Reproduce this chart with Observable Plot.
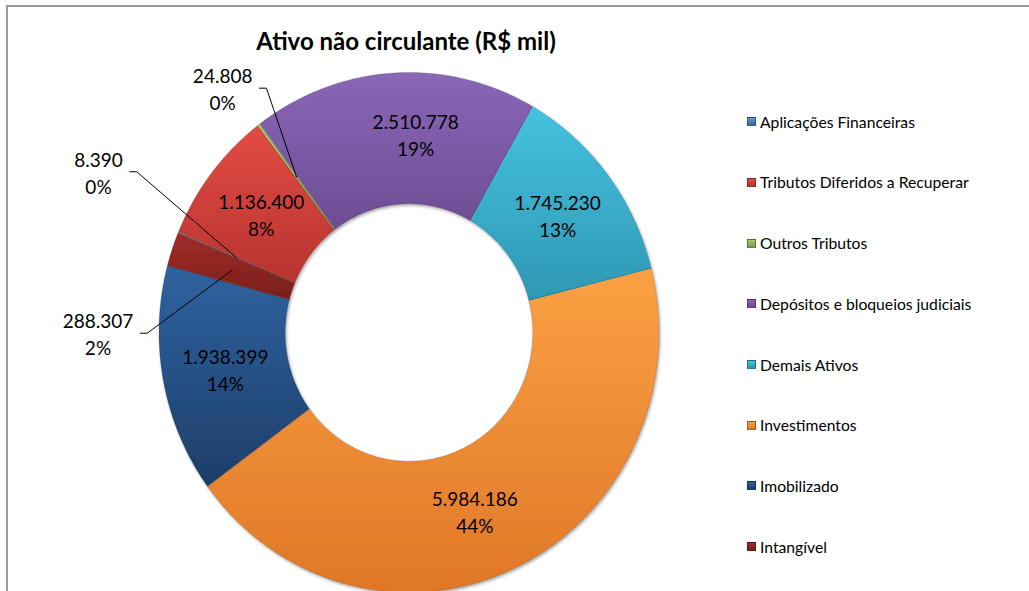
<!DOCTYPE html>
<html>
<head>
<meta charset="utf-8">
<script src="https://cdn.jsdelivr.net/npm/d3@7"></script>
<script src="https://cdn.jsdelivr.net/npm/@observablehq/plot@0.6"></script>
<style>
  html, body { margin: 0; padding: 0; background: #fff; }
  #wrap { position: relative; width: 1029px; height: 591px; overflow: hidden; font-family: Lato, "Open Sans", sans-serif; }
  #frame { position: absolute; left: 6px; top: 5px; width: 1200px; height: 800px; border-left: 2px solid #999; border-top: 2px solid #999; box-sizing: border-box; }
  #chart { position: absolute; left: 0; top: 0; }
  #title { position: absolute; left: 0; width: 812px; top: 26px; text-align: center; font-weight: 700; font-size: 24px; color: #000; line-height: 30px; }
  #legend { position: absolute; left: 747px; top: 0; }
  .item { position: absolute; left: 0; height: 20px; display: flex; align-items: center; white-space: nowrap; font-size: 15.7px; color: #000; }
  .sw { width: 9px; height: 9px; margin-right: 4px; box-sizing: border-box; border: 1px solid rgba(0,0,0,0.35); }
</style>
</head>
<body>
<div id="wrap">
  <svg width="0" height="0" style="position:absolute">
    <defs id="defs">
      <filter id="shadow" x="-10%" y="-10%" width="120%" height="120%">
        <feDropShadow dx="1.2" dy="1.8" stdDeviation="1.8" flood-color="#000" flood-opacity="0.35"/>
      </filter>
    </defs>
  </svg>
  <div id="frame"></div>
  <div id="chart"></div>
  <div id="title">Ativo não circulante (R$ mil)</div>
  <div id="legend"></div>
</div>
<script>
// ---- data ----
const categories = [
  "Aplicações Financeiras",
  "Tributos Diferidos a Recuperar",
  "Outros Tributos",
  "Depósitos e bloqueios judiciais",
  "Demais Ativos",
  "Investimentos",
  "Imobilizado",
  "Intangível"
];
const values = [8390, 1136400, 24808, 2510778, 1745230, 5984186, 1938399, 288307];
const pctLabels = ["0%", "8%", "0%", "19%", "13%", "44%", "14%", "2%"];

// ---- styles ----
const colorsTop    = ["#6593cf", "#e24c45", "#a8c865", "#8a67b7", "#45c2df", "#fba144", "#2f63a1", "#a02d28"];
const colorsBottom = ["#3e6aa2", "#b8332e", "#7f9c45", "#6c4c93", "#2e98b3", "#e07727", "#1d3d68", "#7a1e1b"];

// ---- layout options ----
const startDeg = -67.5;      // angle of first slice (clockwise from top)
const innerRatio = 0.495;    // hole size
const xRange = [158.5, 658.5];
const yRange = [592, 72];
const callouts = { 0: [-138, -86], 2: [-74, -89], 7: [-134, 63] }; // label offset from anchor (px)
const nudges = { 3: [18, -5], 5: [-14, 3] };
const fontSize = 19;

// gradients
const defs = document.getElementById("defs");
const NS = "http://www.w3.org/2000/svg";
categories.forEach((c, i) => {
  const g = document.createElementNS(NS, "linearGradient");
  g.setAttribute("id", "g" + i);
  g.setAttribute("x1", "0"); g.setAttribute("y1", "0");
  g.setAttribute("x2", "0"); g.setAttribute("y2", "1");
  [[0, colorsTop[i]], [1, colorsBottom[i]]].forEach(([o, col]) => {
    const s = document.createElementNS(NS, "stop");
    s.setAttribute("offset", o);
    s.setAttribute("stop-color", col);
    g.appendChild(s);
  });
  defs.appendChild(g);
});

const total = d3.sum(values);
const fmt = d3.formatLocale({decimal: ",", thousands: ".", grouping: [3], currency: ["R$", ""]}).format(",d");
const rad = d => d * Math.PI / 180;
const pt = (deg, r) => [r * Math.sin(rad(deg)), r * Math.cos(rad(deg))];
const kx = (xRange[1] - xRange[0]) / 2;
const ky = (yRange[0] - yRange[1]) / 2;

let acc = 0;
const slices = values.map((v, i) => {
  const a0 = startDeg + acc / total * 360;
  acc += v;
  const a1 = startDeg + acc / total * 360;
  return {i, name: categories[i], v, a0, a1, mid: (a0 + a1) / 2};
});

// ring outlines
const ring = [];
for (const s of slices) {
  const n = Math.max(2, Math.ceil((s.a1 - s.a0) / 0.5));
  for (let k = 0; k <= n; k++) {
    const [x, y] = pt(s.a0 + (s.a1 - s.a0) * k / n, 1);
    ring.push({name: s.name, x, y});
  }
  for (let k = n; k >= 0; k--) {
    const [x, y] = pt(s.a0 + (s.a1 - s.a0) * k / n, innerRatio);
    ring.push({name: s.name, x, y});
  }
}

const labelR = (1 + innerRatio) / 2;
const inner = [];
const outer = [];
const leaders = [];
const canvas = document.createElement("canvas");
const ctx = canvas.getContext("2d");
ctx.font = `${fontSize}px Lato`;
for (const s of slices) {
  const [ax, ay] = pt(s.mid, labelR);
  const text = fmt(s.v) + "\n" + pctLabels[s.i];
  if (s.i in callouts) {
    const [dx, dy] = callouts[s.i];
    const lx = ax + dx / kx, ly = ay - dy / ky;
    outer.push({x: lx, y: ly, text});
    const hw = Math.max(ctx.measureText(fmt(s.v)).width, ctx.measureText(pctLabels[s.i]).width) / 2;
    leaders.push({id: s.i, x: lx + (hw + 7) / kx, y: ly});
    leaders.push({id: s.i, x: lx + (hw + 14) / kx, y: ly});
    leaders.push({id: s.i, x: ax, y: ay});
  } else {
    const [nx, ny] = nudges[s.i] || [0, 0];
    inner.push({x: ax + nx / kx, y: ay - ny / ky, text});
  }
}

const chart = Plot.plot({
  width: 1029,
  height: 591,
  style: {background: "transparent", fontFamily: "Lato, 'Open Sans', sans-serif"},
  x: {domain: [-1, 1], range: xRange, axis: null},
  y: {domain: [-1, 1], range: yRange, axis: null},
  color: {domain: categories, range: categories.map((c, i) => `url(#g${i})`)},
  marks: [
    Plot.line(ring, {x: "x", y: "y", z: "name", fill: "name", stroke: "rgba(0,0,0,0.22)", strokeWidth: 0.6, curve: "linear-closed"}),
    Plot.line(leaders, {x: "x", y: "y", z: "id", stroke: "#000", strokeWidth: 1}),
    Plot.text(inner, {x: "x", y: "y", text: "text", fontSize, lineHeight: 1.42, fill: "#000", textAnchor: "middle"}),
    Plot.text(outer, {x: "x", y: "y", text: "text", fontSize, lineHeight: 1.42, fill: "#000", textAnchor: "middle"})
  ]
});
document.getElementById("chart").appendChild(chart);
const ringG = chart.querySelector('g[aria-label="line"]');
if (ringG) ringG.setAttribute("filter", "url(#shadow)");

// legend
const legend = document.getElementById("legend");
categories.forEach((c, i) => {
  const it = document.createElement("div");
  it.className = "item";
  it.style.top = (121.7 + i * 60.7 - 10) + "px";
  const sw = document.createElement("span");
  sw.className = "sw";
  sw.style.background = `linear-gradient(${colorsTop[i]}, ${colorsBottom[i]})`;
  const tx = document.createElement("span");
  tx.textContent = c;
  it.appendChild(sw);
  it.appendChild(tx);
  legend.appendChild(it);
});
</script>
</body>
</html>
